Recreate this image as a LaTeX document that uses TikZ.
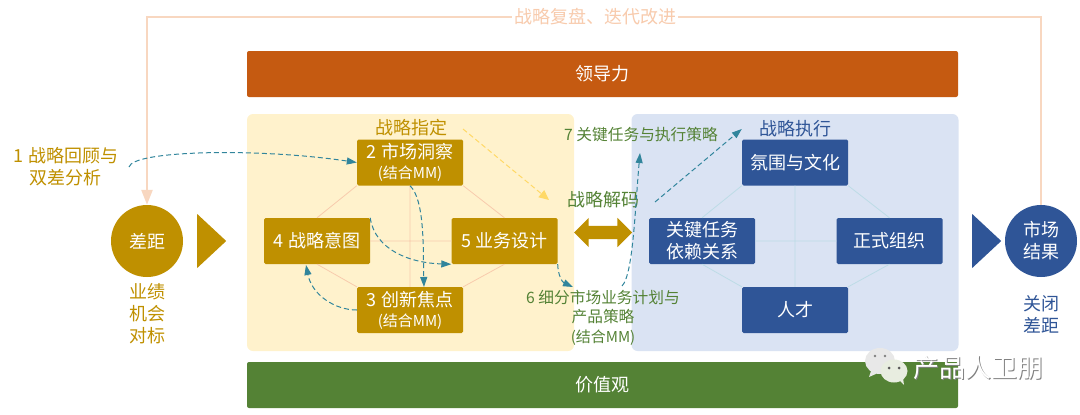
\documentclass[tikz,border=0pt]{standalone}
\usepackage{fontspec}
\setmainfont{Noto Sans CJK SC}
\usepackage{xcolor}
\usepackage{tikz}
\usetikzlibrary{positioning, arrows.meta, shapes.geometric, shapes.arrows}
\definecolor{gold}{HTML}{BF9000}
\definecolor{navy}{HTML}{2F5597}
\definecolor{peach}{HTML}{F8D7C0}
\definecolor{apricot}{HTML}{F8CBAD}
\definecolor{leaf}{HTML}{548235}
\definecolor{rust}{HTML}{C55A11}
\definecolor{teal}{HTML}{31859C}
\definecolor{cream}{HTML}{FFF2CC}
\definecolor{mist}{HTML}{DAE3F3}
\definecolor{butter}{HTML}{FFD966}
\definecolor{icefrost}{HTML}{BDDCE6}
\definecolor{bubble}{HTML}{E8EDE0}
\newcommand{\bigfont}{\fontsize{18}{22}\selectfont}
\newcommand{\midfont}{\fontsize{15.7}{19.5}\selectfont}
\newcommand{\smallfont}{\fontsize{15}{16}\selectfont}

\begin{document}
\begin{tikzpicture}[
    x=1pt, y=-1pt, on grid, node distance=93pt,
    bar/.style={rectangle, rounded corners=2pt, minimum width=711pt, minimum height=46pt, text=white, font=\bigfont},
    panel/.style={rectangle, rounded corners=6pt, minimum width=327pt, minimum height=237pt},
    card/.style={rectangle, rounded corners=1.5pt, minimum width=106pt, minimum height=46pt, inner sep=0pt, align=center, text=white, font=\bigfont},
    goldcard/.style={card, fill=gold},
    navycard/.style={card, fill=navy},
    disc/.style={circle, minimum size=72pt, inner sep=0pt, align=center, text=white, font=\bigfont},
    wedge/.style={isosceles triangle, isosceles triangle stretches, minimum width=54pt, minimum height=29pt, inner sep=0pt, anchor=lower side},
    label/.style={align=center, inner sep=0pt, font=\bigfont},
    hexline/.style={line width=0.8pt},
    flow/.style={teal, line width=1pt, dash pattern=on 5pt off 3pt, -{Triangle[length=10pt, width=7pt]}}
]
    \useasboundingbox (0,0) rectangle (1080,415);

    \node[bar, fill=rust] (lead) at (602.5,74) {领导力};
    \node[bar, fill=leaf] (values) at (602.5,385) {价值观};
    \node[panel, fill=cream] (define) at (410.5,232.5) {};
    \node[panel, fill=mist] (execute) at (795,232.5) {};

    \node[goldcard] (insight) at (410,162.5) {2 市场洞察\\[-2pt]{\smallfont (结合MM)}};
    \node[goldcard] (focus) [below=147.5pt of insight] {3 创新焦点\\[-2pt]{\smallfont (结合MM)}};
    \node[goldcard] (intent) [below left=78.5pt and 93pt of insight] {4 战略意图};
    \node[goldcard] (design) [below right=78.5pt and 94.5pt of insight] {5 业务设计};

    \node[navycard] (culture) at (795,162.5) {氛围与文化};
    \node[navycard] (talent) [below=147.5pt of culture] {人才};
    \node[navycard] (tasks) [below left=78.5pt and 93pt of culture] {关键任务\\依赖关系};
    \node[navycard] (org) [below right=78.5pt and 94.5pt of culture] {正式组织};

    \draw[hexline, apricot] (insight.south west) -- (intent.north)
        (insight.south east) -- (design.north)
        (focus.north west) -- (intent.south)
        (focus.north east) -- (design.south)
        (insight.south) -- (focus.north)
        (intent.east) -- (design.west);
    \draw[hexline, icefrost] (culture.south west) -- (tasks.north)
        (culture.south east) -- (org.north)
        (talent.north west) -- (tasks.south)
        (talent.north east) -- (org.south)
        (culture.south) -- (talent.north)
        (tasks.east) -- (org.west);

    \node[disc, fill=gold] (gap) at (147,241) {差距};
    \node[disc, fill=navy] (result) at (1041,241) {市场\\结果};
    \node[wedge, fill=gold] (gapwedge) at (197,241) {};
    \node[wedge, fill=navy] (resultwedge) at (972,241) {};
    \node[double arrow, double arrow head extend=8pt, minimum height=58pt, minimum width=29pt, inner sep=6.5pt, fill=gold] (decode) at (603,232.5) {};

    \coordinate (loopright) at (1041,17);
    \coordinate (loopleft) at (147,17);
    \draw[peach, line width=2.5pt, -{Triangle[length=15pt, width=11pt]}] (result.north) -- (loopright) -- (loopleft) -- (gap.north);
    \node[label, fill=white, inner xsep=2pt, text=apricot] (review) at (595,17) {战略复盘、迭代改进};

    \node[label, text=gold] (analysis) at (66,167) {1 战略回顾与\\双差分析};
    \node[label, text=gold] (gapnote) at (147,314) {业绩\\机会\\对标};
    \node[label, text=navy] (closenote) at (1041,314) {关闭\\差距};
    \node[label, text=gold] (definetitle) at (411,128) {战略指定};
    \node[label, text=navy] (executetitle) at (795,129) {战略执行};
    \node[label, text=leaf] (decodetitle) at (603,200) {战略解码};
    \node[label, text=leaf, font=\midfont] (keytasks) at (641,135) {7 关键任务与执行策略};
    \node[label, text=leaf, font=\midfont] (segment) at (603,317.5) {6 细分市场业务计划与\\产品策略\\{\smallfont (结合MM)}};

    \coordinate (analysisout) at (129,167);
    \coordinate (definestart) at (463,129);
    \coordinate (defineend) at (549,200);
    \coordinate (segmentin) at (573,287);
    \coordinate (segmentout) at (622,286);
    \coordinate (keyin) at (640,153);
    \coordinate (keyout) at (655,202);

    \draw[flow] (analysisout) .. controls (133,150) and (260,148) .. (insight.west);
    \draw[flow] (insight.south) .. controls (425,200) and (423,250) .. (424,287);
    \draw[flow] (focus.west) .. controls (335,310) and (312,295) .. (306,265);
    \draw[flow] (intent.north east) .. controls (375,250) and (410,263) .. (design.south west);
    \draw[flow] (design.south east) .. controls (558,275) and (562,282) .. (segmentin);
    \draw[flow] (segmentout) .. controls (633,275) and (635,210) .. (keyin);
    \draw[flow] (keyout) -- (culture.north west |- executetitle);
    \draw[butter, line width=1pt, dash pattern=on 5pt off 3pt, -{Triangle[length=10pt, width=9pt]}] (definestart) -- (defineend);

    \fill[gray!18!white] (880,361) ellipse (15pt and 13pt) (871,371) -- (869,377) -- (878,373) -- cycle;
    \fill[gray] (875,356) circle (1.3pt) (885,356) circle (1.3pt);
    \fill[bubble] (894,371) ellipse (13.5pt and 11.5pt) (899,380) -- (904,385) -- (903,378) -- cycle;
    \fill[gray!70!black] (889,368) circle (1.5pt) (899,368) circle (1.5pt);
    \node[label, text=gray, font=\fontsize{26}{26}\selectfont] (markshadow) at (979,369) {产品人卫朋};
    \node[label, text=white, font=\fontsize{26}{26}\selectfont] (mark) at (978,368) {产品人卫朋};
\end{tikzpicture}
\end{document}
